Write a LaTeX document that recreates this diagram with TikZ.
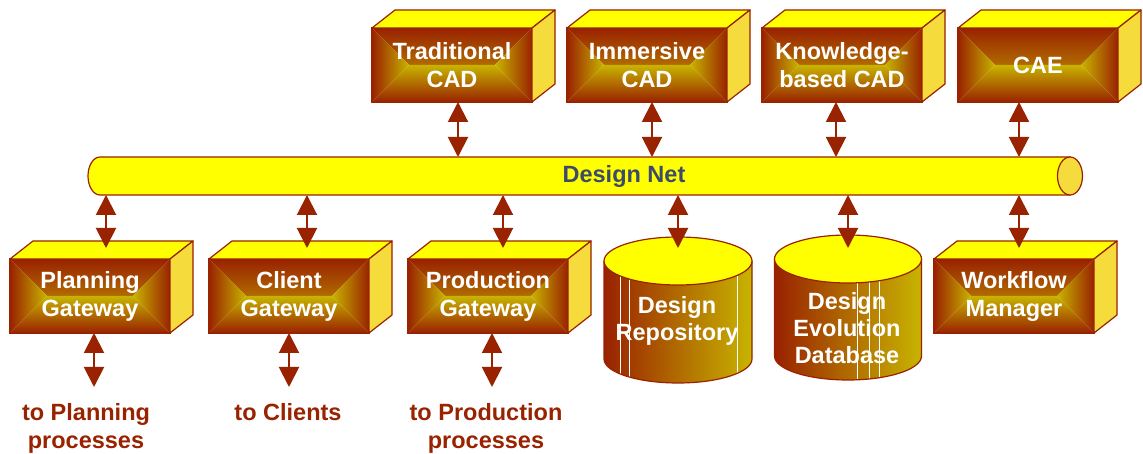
\documentclass[tikz,border=0pt]{standalone}
\usepackage{fontspec}
\setmainfont{Liberation Sans}
\usetikzlibrary{arrows.meta}
\definecolor{brn}{RGB}{153,34,0}
\definecolor{olv}{RGB}{200,180,0}
\definecolor{gold}{RGB}{245,220,60}
\definecolor{yel}{RGB}{255,255,0}
\definecolor{slate}{RGB}{60,75,105}
\tikzset{
  front/.style={rectangle, draw=brn, line width=1.2pt,
    minimum width=160pt, minimum height=74pt, inner sep=0pt, outer sep=0pt,
    text=white, font=\bfseries\fontsize{23.5}{28}\selectfont, align=center,
    path picture={
      \shade[top color=brn, bottom color=olv] (path picture bounding box.north west) -- (path picture bounding box.north east)
        -- ([xshift=-37pt]path picture bounding box.east) -- ([xshift=37pt]path picture bounding box.west) -- cycle;
      \shade[bottom color=brn, top color=olv] (path picture bounding box.south west) -- (path picture bounding box.south east)
        -- ([xshift=-37pt]path picture bounding box.east) -- ([xshift=37pt]path picture bounding box.west) -- cycle;
      \shade[left color=brn, right color=olv] (path picture bounding box.north west) -- ([xshift=37pt]path picture bounding box.west)
        -- (path picture bounding box.south west) -- cycle;
      \shade[right color=brn, left color=olv] (path picture bounding box.north east) -- ([xshift=-37pt]path picture bounding box.east)
        -- (path picture bounding box.south east) -- cycle;
    }},
  topface/.style={draw=brn, line width=1.2pt, fill=yel, line join=round},
  sideface/.style={draw=brn, line width=1.2pt, fill=gold, line join=round},
  netbody/.style={rectangle, minimum width=970pt, minimum height=38pt, inner sep=0pt, outer sep=0pt},
  pipe/.style={draw=brn, line width=1.2pt, fill=yel},
  pipecap/.style={draw=brn, line width=1.2pt, fill=gold},
  netlbl/.style={text=slate, font=\bfseries\fontsize{23.5}{28}\selectfont},
  dbedge/.style={draw=brn, line width=1.2pt},
  dbtop/.style={draw=brn, line width=1.2pt, fill=yel},
  dbtext/.style={text=white, font=\bfseries\fontsize{23.5}{27}\selectfont, align=center},
  outlbl/.style={text=brn, font=\bfseries\fontsize{23.5}{28}\selectfont, align=center, inner sep=0pt, anchor=north},
  dbl/.style={{Triangle[width=20pt,length=20pt]}-{Triangle[width=20pt,length=20pt]}, draw=brn, line width=2pt}
}
\begin{document}
\begin{tikzpicture}[x=1pt,y=1pt]
\useasboundingbox (0,0) rectangle (1143,454);
% tools on top
\node[front] (tcad) at (452,389) {Traditional\\CAD};
\node[front] (icad) at (647,389) {Immersive\\CAD};
\node[front] (kcad) at (842,389) {Knowledge-\\based CAD};
\node[front] (cae) at (1038,389) {CAE};
% gateways below
\node[front] (pgw) at (90,158) {Planning\\Gateway};
\node[front] (cgw) at (289,158) {Client\\Gateway};
\node[front] (prgw) at (488,158) {Production\\Gateway};
\node[front] (wfm) at (1014,158) {Workflow\\Manager};
\foreach \b in {tcad,icad,kcad,cae,pgw,cgw,prgw,wfm}{
  \draw[topface] (\b.north west) -- ++(23,18) -- ([shift={(23,18)}]\b.north east) -- (\b.north east) -- cycle;
  \draw[sideface] (\b.north east) -- ++(23,18) -- ([shift={(23,18)}]\b.south east) -- (\b.south east) -- cycle;
}

% the net
\node[netbody] (net) at (585,278) {};
\draw[pipe] (net.north east) -- (net.north west) arc[start angle=90,end angle=270,x radius=12,y radius=19] -- (net.south east) -- cycle;
\draw[pipecap] (net.east) ellipse[x radius=12.5,y radius=19];
\node[netlbl] (netname) at ([xshift=39]net.center) {Design Net};

% databases
\coordinate (reptop) at (678,193);
\shade[left color=brn, right color=olv] ([xshift=-74]reptop) -- ++(0,-98) arc[start angle=180,end angle=360,x radius=74,y radius=24] -- ++(0,98) -- cycle;
\foreach \dx in {-58,-49,59} \draw[white, line width=1pt] ([xshift=\dx]reptop) -- ++(0,-125);
\draw[dbedge] ([xshift=-74]reptop) -- ++(0,-98) arc[start angle=180,end angle=360,x radius=74,y radius=24] -- ++(0,98);
\draw[dbtop] (reptop) ellipse[x radius=74,y radius=24];
\node[dbtext] (rep) at (677,133) {Design\\Repository};

\coordinate (evotop) at (848,195);
\shade[left color=brn, right color=olv] ([xshift=-73.5]evotop) -- ++(0,-97) arc[start angle=180,end angle=360,x radius=73.5,y radius=24] -- ++(0,97) -- cycle;
\foreach \dx in {9,21,31} \draw[white, line width=1pt] ([xshift=\dx]evotop) -- ++(0,-125);
\draw[dbedge] ([xshift=-73.5]evotop) -- ++(0,-97) arc[start angle=180,end angle=360,x radius=73.5,y radius=24] -- ++(0,97);
\draw[dbtop] (evotop) ellipse[x radius=73.5,y radius=24];
\node[dbtext] (evo) at (847,126) {Design\\Evolution\\Database};

% outside
\node[outlbl] (toplan) at (86,51) {to Planning\\processes};
\node[outlbl] (tocli) at (288,51) {to Clients};
\node[outlbl] (toprod) at (486,51) {to Production\\processes};

% links
\draw[dbl] ([xshift=6]tcad.south) -- ++(0,-55);
\draw[dbl] ([xshift=5]icad.south) -- ++(0,-55);
\draw[dbl] ([xshift=-6]kcad.south) -- ++(0,-55);
\draw[dbl] ([xshift=-19]cae.south) -- ++(0,-55);
\draw[dbl] ([shift={(16,11)}]pgw.north) -- ++(0,53);
\draw[dbl] ([shift={(18,11)}]cgw.north) -- ++(0,53);
\draw[dbl] ([shift={(15,11)}]prgw.north) -- ++(0,53);
\draw[dbl] ([yshift=13]reptop) -- ++(0,53);
\draw[dbl] ([yshift=11]evotop) -- ++(0,53);
\draw[dbl] ([shift={(5,11)}]wfm.north) -- ++(0,53);
\draw[dbl] ([xshift=4]pgw.south) -- ++(0,-54);
\draw[dbl] (cgw.south) -- ++(0,-54);
\draw[dbl] ([xshift=4]prgw.south) -- ++(0,-54);
\end{tikzpicture}
\end{document}
